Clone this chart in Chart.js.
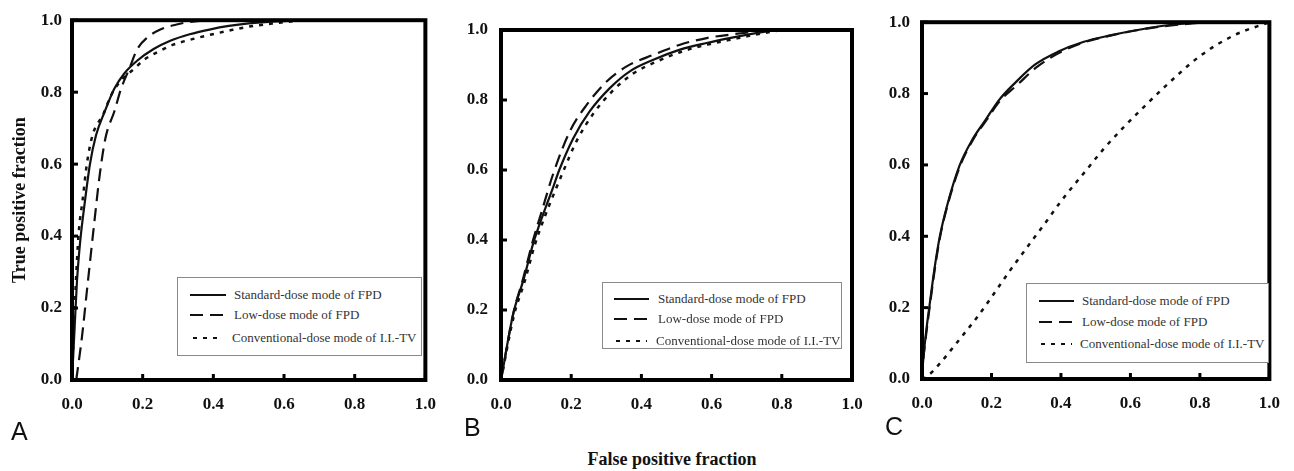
<!DOCTYPE html>
<html>
<head>
<meta charset="utf-8">
<title>ROC curves</title>
<script src="https://cdn.jsdelivr.net/npm/chart.js@4.4.0/dist/chart.umd.min.js"></script>
<style>
    body {
        margin: 0;
        width: 1294px;
        height: 471px;
        position: relative;
        overflow: hidden;
        background: #fff;
        font-family: 'Liberation Serif', 'Times New Roman', serif;
    }
    canvas { position: absolute; top: 0; }
    .legend {
        position: absolute;
        box-sizing: border-box;
        border: 1px solid #8a8a8a;
        background: #fff;
        font-size: 13px;
        color: #333;
    }
    .legend-row {
        position: absolute;
        left: 0;
        display: flex;
        align-items: center;
        white-space: nowrap;
    }
    .legend-row svg { display: block; }
    .tag {
        position: absolute;
        font-family: 'Liberation Sans', Arial, sans-serif;
        font-size: 25px;
        line-height: 1;
        color: #111;
    }
    .x-title {
        position: absolute;
        left: 522px;
        top: 450px;
        width: 300px;
        text-align: center;
        font-size: 18px;
        font-weight: bold;
        line-height: 1;
        color: #111;
    }
</style>
</head>
<body>
<canvas id="rocA" width="450" height="420" style="left:0px"></canvas>
<canvas id="rocB" width="430" height="420" style="left:450px"></canvas>
<canvas id="rocC" width="414" height="420" style="left:880px"></canvas>

<div class="legend" id="legendA" style="left:177px; top:277px; width:245px; height:79px;"></div>
<div class="legend" id="legendB" style="left:602px; top:282px; width:240px; height:67px;"></div>
<div class="legend" id="legendC" style="left:1026px; top:283px; width:243px; height:80px;"></div>

<div class="tag" style="left:11px; top:419px;">A</div>
<div class="tag" style="left:464px; top:415px;">B</div>
<div class="tag" style="left:885px; top:414px;">C</div>
<div class="x-title">False positive fraction</div>

<script>
// tick labels shared by both axes of every panel
const axisTicks = [0, 0.2, 0.4, 0.6, 0.8, 1.0];

const seriesLabels = [
    'Standard-dose mode of FPD',
    'Low-dose mode of FPD',
    'Conventional-dose mode of I.I.-TV'
];

// Panel A
const aStandardFpf = [0, 0.007, 0.014, 0.023, 0.037, 0.051, 0.068, 0.093, 0.12, 0.148, 0.185, 0.231, 0.278, 0.333, 0.389, 0.444, 0.5, 0.58, 0.65];
const aStandardTpf = [0, 0.137, 0.273, 0.383, 0.5, 0.601, 0.68, 0.747, 0.81, 0.852, 0.888, 0.92, 0.943, 0.961, 0.974, 0.984, 0.991, 0.997, 1.0];
const aLowFpf = [0.012, 0.028, 0.042, 0.06, 0.079, 0.095, 0.12, 0.139, 0.162, 0.185, 0.213, 0.25, 0.296, 0.333, 0.4, 0.5];
const aLowTpf = [0, 0.118, 0.246, 0.41, 0.574, 0.674, 0.747, 0.81, 0.865, 0.92, 0.952, 0.974, 0.988, 0.995, 1.0, 1.0];
const aConvFpf = [0, 0.005, 0.011, 0.019, 0.03, 0.042, 0.058, 0.088, 0.111, 0.139, 0.176, 0.204, 0.241, 0.287, 0.343, 0.398, 0.444, 0.5, 0.587, 0.65];
const aConvTpf = [0, 0.137, 0.273, 0.41, 0.5, 0.6, 0.68, 0.738, 0.792, 0.833, 0.865, 0.89, 0.911, 0.932, 0.948, 0.961, 0.971, 0.982, 0.993, 1.0];

// Panel B
const bStandardFpf = [0, 0.035, 0.064, 0.092, 0.121, 0.149, 0.166, 0.206, 0.253, 0.31, 0.367, 0.434, 0.51, 0.586, 0.662, 0.71, 0.78];
const bStandardTpf = [0, 0.19, 0.286, 0.391, 0.476, 0.552, 0.6, 0.691, 0.768, 0.834, 0.882, 0.915, 0.944, 0.963, 0.979, 0.988, 1.0];
const bLowFpf = [0, 0.035, 0.063, 0.09, 0.117, 0.149, 0.196, 0.244, 0.301, 0.358, 0.434, 0.51, 0.586, 0.662, 0.75, 0.8];
const bLowTpf = [0, 0.19, 0.29, 0.395, 0.485, 0.59, 0.71, 0.786, 0.853, 0.896, 0.929, 0.958, 0.977, 0.988, 0.997, 1.0];
const bConvFpf = [0, 0.037, 0.067, 0.096, 0.126, 0.156, 0.176, 0.216, 0.263, 0.32, 0.377, 0.444, 0.52, 0.596, 0.672, 0.73, 0.8];
const bConvTpf = [0, 0.185, 0.28, 0.385, 0.47, 0.545, 0.593, 0.684, 0.761, 0.828, 0.876, 0.91, 0.94, 0.96, 0.976, 0.988, 1.0];

// Panel C
const cStandardFpf = [0, 0.002, 0.011, 0.023, 0.037, 0.051, 0.072, 0.108, 0.145, 0.183, 0.221, 0.268, 0.325, 0.391, 0.466, 0.542, 0.608, 0.68, 0.8];
const cStandardTpf = [0, 0.034, 0.125, 0.216, 0.316, 0.398, 0.485, 0.598, 0.671, 0.726, 0.781, 0.83, 0.881, 0.917, 0.945, 0.963, 0.976, 0.988, 1.0];
const cLowFpf = [0, 0.002, 0.012, 0.024, 0.038, 0.052, 0.073, 0.11, 0.147, 0.186, 0.224, 0.275, 0.33, 0.395, 0.468, 0.545, 0.61, 0.69, 0.82];
const cLowTpf = [0, 0.034, 0.125, 0.216, 0.316, 0.398, 0.485, 0.598, 0.671, 0.726, 0.779, 0.825, 0.874, 0.914, 0.944, 0.963, 0.976, 0.988, 1.0];
const cConvFpf = [0, 0.013, 0.051, 0.089, 0.127, 0.16, 0.197, 0.249, 0.297, 0.353, 0.4, 0.476, 0.523, 0.58, 0.636, 0.7, 0.8, 0.9, 1.0];
const cConvTpf = [0, 0.006, 0.043, 0.088, 0.134, 0.175, 0.225, 0.298, 0.362, 0.435, 0.498, 0.589, 0.645, 0.705, 0.76, 0.82, 0.905, 0.964, 1.0];

const lineDashes = [[], [13, 7], [4, 6]];
const lineWidths = [2.2, 2.2, 2.5];
const serifFont = "'Liberation Serif', 'Times New Roman', serif";

// thick box round the plot area plus small inward tick marks
const frameBox = {
    id: 'frameBox',
    afterDatasetsDraw(chart) {
        const { ctx, chartArea: a, scales } = chart;
        ctx.save();
        ctx.strokeStyle = '#000';
        ctx.lineWidth = 4;
        ctx.strokeRect(a.left, a.top, a.right - a.left, a.bottom - a.top);
        ctx.lineWidth = 3;
        scales.x.ticks.forEach(t => {
            const px = scales.x.getPixelForValue(t.value);
            ctx.beginPath();
            ctx.moveTo(px, a.bottom);
            ctx.lineTo(px, a.bottom - 6);
            ctx.stroke();
        });
        scales.y.ticks.forEach(t => {
            const py = scales.y.getPixelForValue(t.value);
            ctx.beginPath();
            ctx.moveTo(a.left, py);
            ctx.lineTo(a.left + 6, py);
            ctx.stroke();
        });
        ctx.restore();
    }
};

function toPoints(xs, ys) {
    return xs.map((x, i) => ({ x: x, y: ys[i] }));
}

function createRocChart(canvasId, series, layout) {
    const canvas = document.getElementById(canvasId);
    if (!canvas) {
        console.error('Canvas not found:', canvasId);
        return null;
    }
    const ctx = canvas.getContext('2d');
    const tickFont = { family: serifFont, size: 17, weight: 'bold' };

    return new Chart(ctx, {
        type: 'line',
        data: {
            datasets: series.map((s, i) => ({
                label: seriesLabels[i],
                data: toPoints(s[0], s[1]),
                borderColor: '#111',
                borderWidth: lineWidths[i],
                borderDash: lineDashes[i],
                pointRadius: 0,
                fill: false,
                cubicInterpolationMode: 'monotone'
            }))
        },
        options: {
            responsive: false,
            animation: false,
            layout: {
                padding: { top: layout.top, right: layout.right, left: 0, bottom: 0 }
            },
            plugins: {
                legend: { display: false },
                tooltip: { enabled: false }
            },
            scales: {
                x: {
                    type: 'linear',
                    min: 0,
                    max: 1,
                    afterBuildTicks: scale => { scale.ticks = axisTicks.map(v => ({ value: v })); },
                    afterFit: scale => { scale.height = layout.xHeight; },
                    grid: { display: false, drawTicks: false },
                    border: { display: false },
                    ticks: {
                        font: tickFont,
                        color: '#111',
                        padding: 14,
                        maxRotation: 0,
                        autoSkip: false,
                        callback: value => value.toFixed(1)
                    }
                },
                y: {
                    type: 'linear',
                    min: 0,
                    max: 1,
                    afterBuildTicks: scale => { scale.ticks = axisTicks.map(v => ({ value: v })); },
                    afterFit: scale => { scale.width = layout.yWidth; },
                    grid: { display: false, drawTicks: false },
                    border: { display: false },
                    ticks: {
                        font: tickFont,
                        color: '#111',
                        padding: layout.yPad,
                        autoSkip: false,
                        callback: value => value.toFixed(1)
                    },
                    title: {
                        display: !!layout.yTitle,
                        text: layout.yTitle || '',
                        font: { family: serifFont, size: 18, weight: 'bold' },
                        color: '#111',
                        padding: { top: 10, bottom: 0 }
                    }
                }
            }
        },
        plugins: [frameBox]
    });
}

function buildLegend(containerId, rows) {
    const box = document.getElementById(containerId);
    if (!box) return;
    seriesLabels.forEach((label, i) => {
        const r = rows[i];
        const row = document.createElement('div');
        row.className = 'legend-row';
        row.style.top = (r.y - 9) + 'px';
        row.style.height = '18px';
        row.innerHTML =
            '<svg width="' + r.textX + '" height="18">' +
            '<line x1="' + r.x0 + '" y1="9" x2="' + r.x1 + '" y2="9" stroke="#111" stroke-width="2.2"' +
            (lineDashes[i].length ? ' stroke-dasharray="' + lineDashes[i].join(',') + '"' : '') +
            '/></svg><span>' + label + '</span>';
        box.appendChild(row);
    });
}

document.addEventListener('DOMContentLoaded', function () {
    createRocChart('rocA', [
        [aStandardFpf, aStandardTpf], [aLowFpf, aLowTpf], [aConvFpf, aConvTpf]
    ], { top: 14, right: 18, xHeight: 40, yWidth: 72, yPad: 10, yTitle: 'True positive fraction' });

    createRocChart('rocB', [
        [bStandardFpf, bStandardTpf], [bLowFpf, bLowTpf], [bConvFpf, bConvTpf]
    ], { top: 30, right: 28, xHeight: 40, yWidth: 51, yPad: 13 });

    createRocChart('rocC', [
        [cStandardFpf, cStandardTpf], [cLowFpf, cLowTpf], [cConvFpf, cConvTpf]
    ], { top: 13, right: 19, xHeight: 41, yWidth: 42, yPad: 12 });

    buildLegend('legendA', [
        { y: 17, x0: 12, x1: 48, textX: 56 },
        { y: 37, x0: 12, x1: 48, textX: 56 },
        { y: 60, x0: 15, x1: 44, textX: 54 }
    ]);
    buildLegend('legendB', [
        { y: 16, x0: 11, x1: 46, textX: 55 },
        { y: 36, x0: 11, x1: 46, textX: 55 },
        { y: 58, x0: 13, x1: 44, textX: 53 }
    ]);
    buildLegend('legendC', [
        { y: 17, x0: 12, x1: 47, textX: 55 },
        { y: 38, x0: 12, x1: 47, textX: 55 },
        { y: 60, x0: 14, x1: 45, textX: 53 }
    ]);
});
</script>
</body>
</html>
